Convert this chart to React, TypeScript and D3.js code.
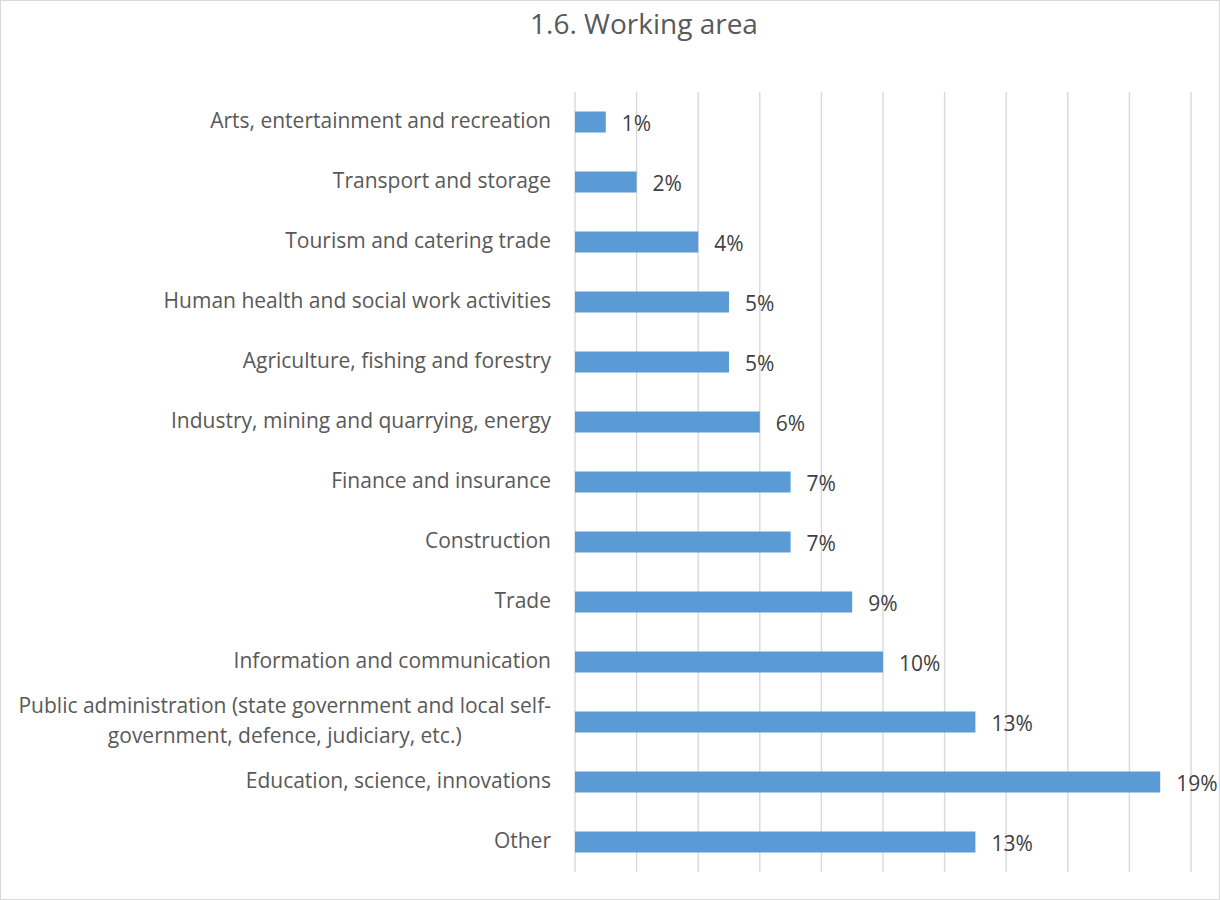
import React, { useEffect, useRef } from "react";
import * as d3 from "d3";

const categories: string[][] = [
  ["Arts, entertainment and recreation"],
  ["Transport and storage"],
  ["Tourism and catering trade"],
  ["Human health and social work activities"],
  ["Agriculture, fishing and forestry"],
  ["Industry, mining and quarrying, energy"],
  ["Finance and insurance"],
  ["Construction"],
  ["Trade"],
  ["Information and communication"],
  ["Public administration (state government and local self-", "government, defence, judiciary, etc.)"],
  ["Education, science, innovations"],
  ["Other"],
];
const values: number[] = [0.01, 0.02, 0.04, 0.05, 0.05, 0.06, 0.07, 0.07, 0.09, 0.10, 0.13, 0.19, 0.13];
const xTicks: number[] = [0, 0.02, 0.04, 0.06, 0.08, 0.1, 0.12, 0.14, 0.16, 0.18, 0.2];
const title = "1.6. Working area";

const W = 1220;
const H = 900;
const FONT = "'Open Sans', sans-serif";
const LABEL_SIZE = 21;

export default function App() {
  const ref = useRef<SVGSVGElement | null>(null);

  useEffect(() => {
    const svg = d3.select(ref.current);
    svg.selectAll("*").remove();

    svg.append("rect").attr("x", 0.5).attr("y", 0.5).attr("width", W - 1).attr("height", H - 1)
      .attr("fill", "#fff").attr("stroke", "#d9d9d9").attr("stroke-width", 1);

    const x = d3.scaleLinear().domain([0, 0.2]).range([575, 1191]);
    const keys = categories.map((c, i) => String(i));
    const y = d3.scaleBand<string>().domain(keys).range([92, 872]).paddingInner(0.65).paddingOuter(0.325);

    svg.append("text").attr("x", 644).attr("y", 34).attr("text-anchor", "middle")
      .attr("font-family", FONT).attr("font-size", 28).attr("fill", "#595959").text(title);

    const grid = svg.append("g");
    grid.selectAll("line").data(xTicks).join("line")
      .attr("x1", (d) => x(d)).attr("x2", (d) => x(d))
      .attr("y1", 92).attr("y2", 872)
      .attr("stroke", "#d9d9d9").attr("stroke-width", 1.4);

    const bars = svg.append("g");
    bars.selectAll("rect").data(values).join("rect")
      .attr("x", x(0))
      .attr("y", (d, i) => y(String(i)) as number)
      .attr("width", (d) => x(d) - x(0))
      .attr("height", y.bandwidth())
      .attr("fill", "#5b9bd5");

    const vl = svg.append("g");
    vl.selectAll("text").data(values).join("text")
      .attr("x", (d) => x(d) + 16)
      .attr("y", (d, i) => (y(String(i)) as number) + y.bandwidth() / 2 + 8.5)
      .attr("font-family", FONT).attr("font-size", LABEL_SIZE).attr("fill", "#404040")
      .text((d) => d3.format(".0%")(d));

    const labels = svg.append("g");
    categories.forEach((lines, i) => {
      const cy = (y(String(i)) as number) + y.bandwidth() / 2;
      if (lines.length === 1) {
        labels.append("text").attr("x", 551).attr("y", cy + 5.5).attr("text-anchor", "end")
          .attr("font-family", FONT).attr("font-size", LABEL_SIZE).attr("fill", "#595959").text(lines[0]);
      } else {
        const t0 = labels.append("text").attr("x", 551).attr("y", cy - 15 + 5.5).attr("text-anchor", "end")
          .attr("font-family", FONT).attr("font-size", LABEL_SIZE).attr("fill", "#595959").text(lines[0]);
        const w = (t0.node() as SVGTextElement).getComputedTextLength();
        const center = 551 - w / 2;
        lines.slice(1).forEach((ln, j) => {
          labels.append("text").attr("x", center).attr("y", cy + 15 * (j + 1) + 5.5).attr("text-anchor", "middle")
            .attr("font-family", FONT).attr("font-size", LABEL_SIZE).attr("fill", "#595959").text(ln);
        });
      }
    });
  }, []);

  return (
    <svg ref={ref} width={W} height={H} style={{ position: "absolute", left: 0, top: 0, display: "block" }} />
  );
}
